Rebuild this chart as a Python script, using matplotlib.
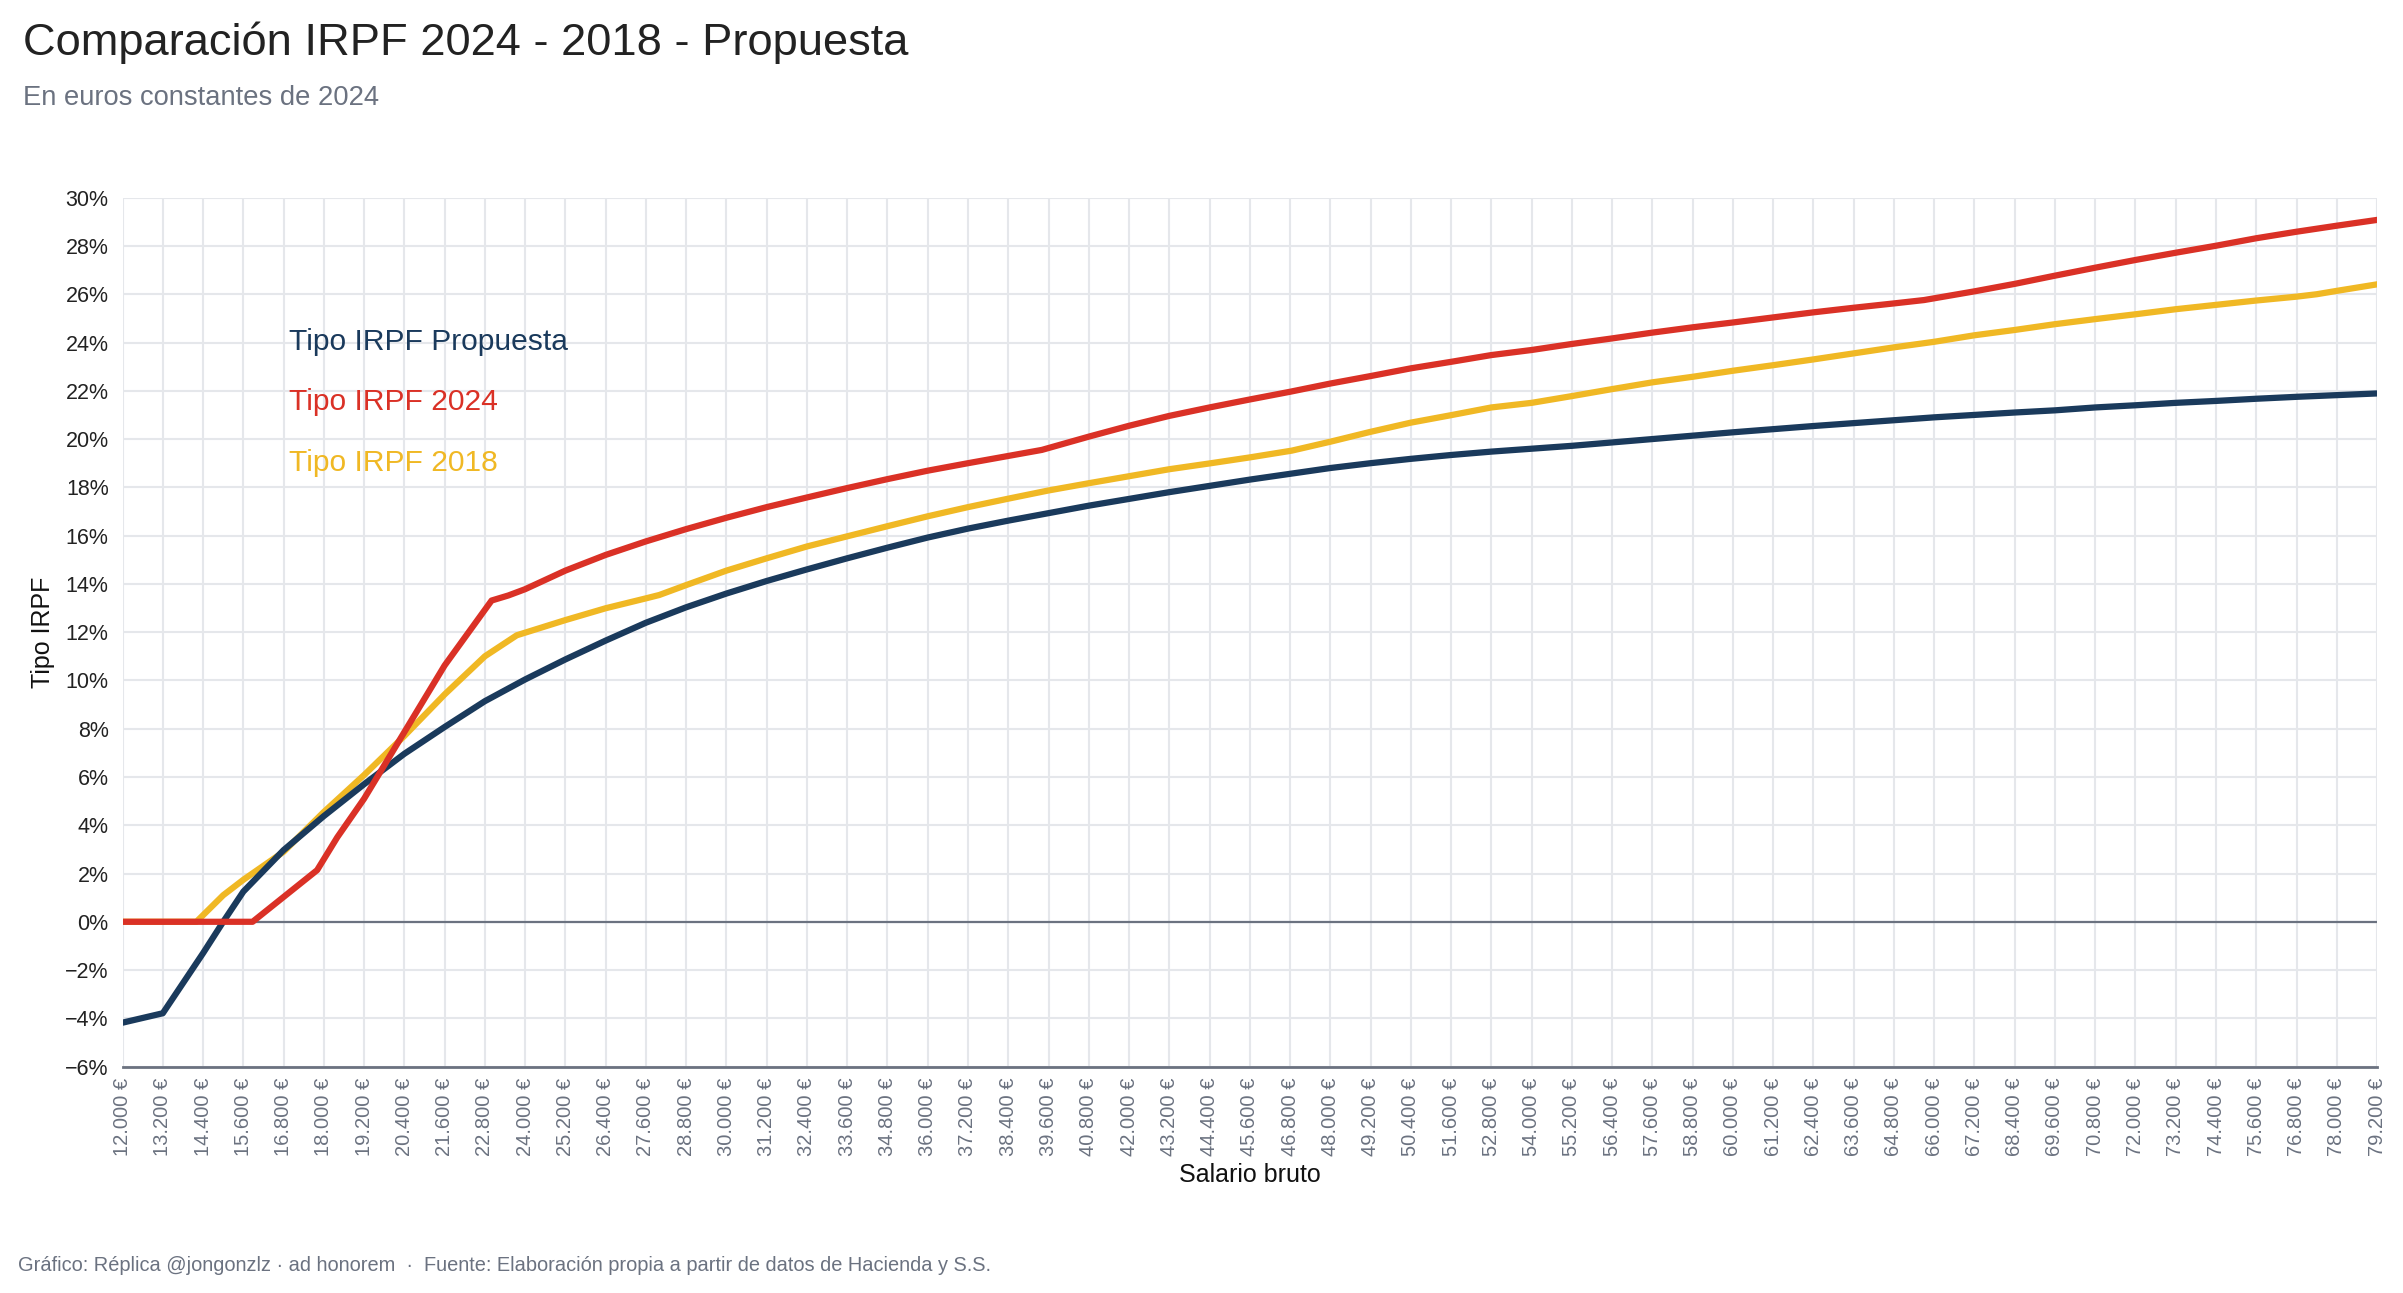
import numpy as np
import matplotlib
matplotlib.use("Agg")
import matplotlib.pyplot as plt
from matplotlib.ticker import FixedLocator, FuncFormatter

plt.rcParams['font.family'] = ['Liberation Sans', 'DejaVu Sans']

# Datos (salario bruto en €, tipo IRPF en %)
salario_prop = [12000, 13200, 14400, 15000, 15600, 16800, 18000, 19200, 20400,
                21600, 22800, 24000, 25200, 26400, 27600, 28800, 30000, 31200, 32400,
                33600, 34800, 36000, 37200, 38400, 39600, 40800, 42000, 43200, 44400,
                45600, 46800, 48000, 49200, 50400, 51600, 52800, 54000, 55200, 56400,
                57600, 58800, 60000, 61200, 62400, 63600, 64800, 66000, 67200, 68400,
                69600, 70800, 72000, 73200, 74400, 75600, 76800, 78000, 79200]
tipo_prop = [-4.18, -3.79, -1.3, 0.0, 1.25, 2.97, 4.38, 5.7, 6.96,
             8.07, 9.14, 10.04, 10.87, 11.65, 12.39, 13.03, 13.6, 14.12, 14.6,
             15.06, 15.5, 15.92, 16.29, 16.62, 16.93, 17.24, 17.52, 17.8, 18.06,
             18.32, 18.56, 18.8, 19.0, 19.18, 19.34, 19.48, 19.6, 19.72, 19.86,
             20.0, 20.14, 20.28, 20.41, 20.54, 20.66, 20.78, 20.9, 21.0, 21.1,
             21.19, 21.31, 21.4, 21.5, 21.58, 21.67, 21.75, 21.82, 21.89]

salario_2024 = [12000, 13200, 14400, 15600, 15876, 17800, 18400, 19200, 20400, 21600,
                23000, 23500, 24000, 25200, 26400, 27600, 28800, 30000, 31200, 32400,
                33600, 34800, 36000, 37200, 38400, 39400, 40800, 42000, 43200, 44400,
                45600, 46800, 48000, 49200, 50400, 51600, 52800, 54000, 55200, 56400,
                57600, 58800, 60000, 61200, 62400, 63600, 64800, 65700, 67200, 68400,
                69600, 70800, 72000, 73200, 74400, 75600, 76800, 78000, 79200]
tipo_2024 = [0.0, 0.0, 0.0, 0.0, 0.0, 2.14, 3.5, 5.1, 7.86, 10.62,
             13.31, 13.52, 13.78, 14.55, 15.2, 15.76, 16.27, 16.74, 17.18, 17.58,
             17.97, 18.34, 18.69, 19.0, 19.3, 19.55, 20.1, 20.55, 20.96, 21.31,
             21.64, 21.96, 22.3, 22.61, 22.93, 23.2, 23.48, 23.69, 23.94, 24.17,
             24.41, 24.63, 24.83, 25.04, 25.25, 25.44, 25.62, 25.76, 26.12, 26.43,
             26.77, 27.1, 27.42, 27.72, 28.01, 28.32, 28.59, 28.84, 29.08]

salario_2018 = [12000, 13200, 14200, 15000, 15600, 16800, 18000, 19200, 20400, 21600,
                22800, 23750, 25200, 26400, 27600, 28000, 28800, 30000, 31200, 32400,
                33600, 34800, 36000, 37200, 38400, 39600, 40800, 42000, 43200, 44400,
                45600, 46850, 48000, 49200, 50400, 51600, 52800, 54000, 55200, 56400,
                57600, 58800, 60000, 61200, 62400, 63600, 64800, 66000, 67200, 68400,
                69600, 70800, 72000, 73200, 74400, 75600, 76800, 77400, 78000, 79200]
tipo_2018 = [0.0, 0.0, 0.0, 1.1, 1.74, 2.9, 4.55, 6.08, 7.7, 9.42,
             11.0, 11.87, 12.5, 12.99, 13.4, 13.54, 13.95, 14.55, 15.06, 15.55,
             15.97, 16.39, 16.8, 17.18, 17.53, 17.87, 18.17, 18.46, 18.75, 18.99,
             19.24, 19.52, 19.89, 20.3, 20.68, 20.99, 21.31, 21.5, 21.78, 22.07,
             22.35, 22.58, 22.83, 23.06, 23.3, 23.55, 23.8, 24.03, 24.3, 24.52,
             24.76, 24.97, 25.17, 25.38, 25.56, 25.74, 25.9, 26.0, 26.14, 26.41]

x_ticks = list(range(12000, 79201, 1200))
y_ticks = list(range(-6, 31, 2))

c_prop = '#1a3a5c'
c_2024 = '#da3126'
c_2018 = '#f0b824'
c_grid = '#e5e7eb'
c_axis = '#6b7280'

fig = plt.figure(figsize=(24.03, 12.93), dpi=100)
ax = fig.add_axes([0.051, 0.1751, 0.9382, 0.672])

ax.plot(salario_prop, tipo_prop, color=c_prop, lw=4.5, solid_joinstyle='round', zorder=5)
ax.plot(salario_2018, tipo_2018, color=c_2018, lw=4.5, solid_joinstyle='round', zorder=4)
ax.plot(salario_2024, tipo_2024, color=c_2024, lw=4.5, solid_joinstyle='round', zorder=6)

ax.axhline(0, color=c_axis, lw=1.6, zorder=3)

ax.set_xlim(12000, 79200)
ax.set_ylim(-6, 30)
ax.xaxis.set_major_locator(FixedLocator(x_ticks))
ax.yaxis.set_major_locator(FixedLocator(y_ticks))
ax.xaxis.set_major_formatter(FuncFormatter(lambda v, p: f"{int(v):,} €".replace(',', '.')))
ax.yaxis.set_major_formatter(FuncFormatter(lambda v, p: f"{int(v)}%".replace('-', '\u2212')))

ax.grid(True, color=c_grid, lw=1.5, zorder=0)
ax.set_axisbelow(True)
for s in ['top', 'right', 'left']:
    ax.spines[s].set_visible(False)
ax.spines['bottom'].set_color(c_axis)
ax.spines['bottom'].set_linewidth(2)

ax.tick_params(axis='x', length=0, pad=8, labelsize=14.5, labelcolor=c_axis, labelrotation=90)
ax.tick_params(axis='y', length=0, pad=10, labelsize=15.5, labelcolor='#222222')

ax.set_xlabel('Salario bruto', fontsize=18, color='#111111', labelpad=5)
ax.set_ylabel('Tipo IRPF', fontsize=18, color='#111111', labelpad=7)

ax.text(16950, 23.69, 'Tipo IRPF Propuesta', color=c_prop, fontsize=21.6, va='baseline')
ax.text(16950, 21.2, 'Tipo IRPF 2024', color=c_2024, fontsize=21.6, va='baseline')
ax.text(16950, 18.67, 'Tipo IRPF 2018', color=c_2018, fontsize=21.6, va='baseline')

fig.text(0.0096, 0.9575, 'Comparación IRPF 2024 - 2018 - Propuesta', fontsize=32.6,
         color='#222222', va='baseline')
fig.text(0.0096, 0.919, 'En euros constantes de 2024', fontsize=19.7,
         color=c_axis, va='baseline')
fig.text(0.0075, 0.017, 'Gráfico: Réplica @jongonzlz · ad honorem  ·  Fuente: Elaboración propia '
         'a partir de datos de Hacienda y S.S.', fontsize=14.4, color=c_axis, va='baseline')

fig.savefig('out.png', dpi=100, facecolor='white')
